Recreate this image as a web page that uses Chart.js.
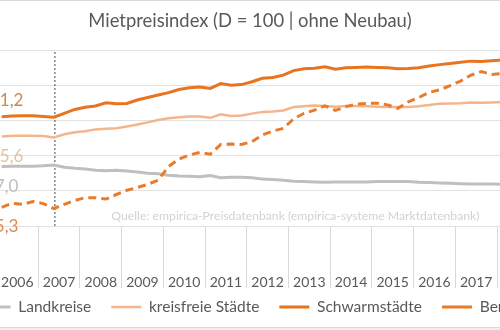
<!DOCTYPE html>
<html lang="de">
<head>
<meta charset="UTF-8">
<title>Mietpreisindex</title>
<script src="https://cdn.jsdelivr.net/npm/chart.js"></script>
<style>
  html, body { margin: 0; padding: 0; background: #efefef; overflow: hidden; }
  .frame {
    position: relative; width: 500px; height: 326px; overflow: hidden; background: #fff;
    border-top: 1px solid #d9d9d9; border-bottom: 1px solid #d9d9d9;
  }
  .frame canvas { position: absolute; left: -60px; top: -1px; }
</style>
</head>
<body>
<div class="frame">
  <canvas id="mietChart" width="620" height="330"></canvas>
</div>

<script>
// quarterly index values, first quarter 2006
const firstYear = 2006;
const yearLabels = ['2006', '2007', '2008', '2009', '2010', '2011', '2012', '2013', '2014', '2015', '2016', '2017', '2018'];
const seriesNames = ['Landkreise', 'kreisfreie Städte', 'Schwarmstädte', 'Berlin'];

const landkreise = [
  97.0, 97.1, 97.1, 97.1, 97.2, 97.4, 96.8, 96.5, 96.3, 95.9,
  95.8, 95.9, 95.7, 95.4, 95.1, 94.9, 94.5, 94.3, 94.2, 94.1,
  94.4, 93.8, 93.9, 93.9, 93.8, 93.4, 93.3, 93.1, 92.8, 92.7,
  92.6, 92.5, 92.6, 92.6, 92.6, 92.6, 92.7, 92.7, 92.7, 92.7,
  92.5, 92.4, 92.3, 92.2, 92.1, 92.0, 92.0, 92.0, 91.9, 91.9, 91.8, 91.8
];
const kreisfreie = [
  105.6, 105.8, 105.8, 105.8, 105.7, 105.3, 106.2, 106.8, 107.1, 107.6,
  107.8, 107.9, 108.4, 109.0, 109.6, 110.3, 110.8, 111.1, 111.3, 111.3,
  110.9, 111.9, 111.4, 111.6, 112.1, 112.6, 112.7, 113.0, 114.0, 114.2,
  114.4, 114.3, 114.1, 114.3, 114.3, 114.2, 114.1, 114.0, 114.0, 114.0,
  114.2, 114.6, 114.9, 115.0, 115.1, 115.3, 115.2, 115.3, 115.4, 115.5, 115.5, 115.6
];
const schwarmstaedte = [
  111.2, 111.4, 111.5, 111.5, 111.3, 111.1, 112.2, 113.3, 113.9, 114.3,
  115.2, 114.9, 115.0, 116.0, 116.7, 117.4, 118.1, 119.0, 119.5, 119.7,
  119.3, 120.7, 120.2, 120.4, 121.2, 122.2, 122.4, 123.1, 124.4, 124.9,
  125.1, 125.5, 124.8, 125.2, 125.3, 125.4, 125.3, 125.2, 124.9, 125.0,
  125.2, 125.7, 126.1, 126.4, 126.8, 127.1, 127.0, 127.2, 127.4, 127.5, 127.7, 127.9
];
const berlin = [
  85.3, 86.5, 86.2, 87.0, 86.4, 85.0, 86.2, 87.3, 88.1, 88.1,
  87.7, 89.0, 90.2, 91.0, 91.9, 93.1, 97.0, 99.1, 100.3, 101.0,
  100.5, 103.3, 103.4, 103.3, 104.1, 106.0, 107.1, 107.9, 110.6, 112.2,
  113.1, 114.3, 113.0, 114.1, 114.8, 115.0, 115.1, 114.6, 113.6, 115.5,
  116.7, 118.2, 118.9, 120.1, 121.4, 123.1, 124.1, 123.3, 123.6, 124.2, 124.8, 125.3
];

const markerYear = 2007.4;   // dotted reference line
const yTicks = [80, 90, 100, 110, 120, 130];
const sourceNote = 'Quelle: empirica-Preisdatenbank (empirica-systeme Marktdatenbank)';

const FONT = 'Lato, "Open Sans", sans-serif';
const TEXT = '#595959';

// quarter midpoints on a numeric year axis
const toPoints = values => values.map((v, i) => ({ x: firstYear + (i + 0.5) / 4, y: v }));
const fmt = v => v.toFixed(1).replace('.', ',');

// year labels sit inside the long separator ticks and reach into the legend's
// padding, so let the x axis clip area extend a bit further down
const yearBand = {
  id: 'yearBand',
  afterLayout(chart) {
    chart.scales.x.bottom += 14;
  }
};

// value of the first quarter written next to each line, plus the source note
const startLabels = {
  id: 'startLabels',
  afterDatasetsDraw(chart) {
    const ctx = chart.ctx;
    const { left, bottom } = chart.chartArea;
    ctx.save();
    ctx.font = '12.2px ' + FONT;
    ctx.fillStyle = '#d2d2d2';
    ctx.textAlign = 'right';
    ctx.textBaseline = 'middle';
    ctx.fillText(sourceNote, left + 483, bottom - 10);

    ctx.font = '17px ' + FONT;
    ctx.textAlign = 'center';
    chart.data.datasets.forEach((ds, i) => {
      if (ds.labelColor === undefined) return;
      const pt = chart.getDatasetMeta(i).data[0];
      ctx.fillStyle = ds.labelColor;
      ctx.fillText(fmt(ds.data[0].y), pt.x, pt.y + ds.labelOffset);
    });
    ctx.restore();
  }
};

new Chart(document.getElementById('mietChart'), {
  type: 'line',
  data: {
    datasets: [
      {
        label: seriesNames[0], data: toPoints(landkreise),
        borderColor: '#bfbfbf', borderWidth: 3, order: 4,
        labelColor: '#bdbdbd', labelOffset: 20
      },
      {
        label: seriesNames[1], data: toPoints(kreisfreie),
        borderColor: '#f3b68c', borderWidth: 2.5, order: 3,
        labelColor: '#dfc3a4', labelOffset: 20
      },
      {
        label: seriesNames[2], data: toPoints(schwarmstaedte),
        borderColor: '#e8741f', borderWidth: 3, order: 2,
        labelColor: '#c98b4c', labelOffset: -16
      },
      {
        label: seriesNames[3], data: toPoints(berlin),
        borderColor: '#e97b2c', borderWidth: 3, borderDash: [8, 5], order: 1,
        labelColor: '#e38a4a', labelOffset: 19
      },
      {
        label: 'marker', data: [{ x: markerYear, y: yTicks[0] }, { x: markerYear, y: yTicks[yTicks.length - 1] }],
        borderColor: '#666', borderWidth: 1.2, borderDash: [2, 2], order: 5
      }
    ]
  },
  options: {
    responsive: false,
    animation: false,
    devicePixelRatio: 1,
    layout: { padding: { top: 0, bottom: 5.25, left: 0, right: 0 } },
    elements: { point: { radius: 0 }, line: { tension: 0, fill: false } },
    scales: {
      x: {
        type: 'linear',
        min: firstYear,
        max: firstYear + 13.51,
        afterBuildTicks: s => {
          const ticks = [];
          yearLabels.forEach((_, k) => {
            ticks.push({ value: firstYear + k });
            ticks.push({ value: firstYear + k + 0.5 });
          });
          ticks.push({ value: firstYear + yearLabels.length });
          s.ticks = ticks;
        },
        afterFit: s => { s.height = 53.25; },
        border: { display: false },
        grid: {
          drawOnChartArea: false,
          tickLength: 62,
          lineWidth: 1,
          color: c => Number.isInteger(c.tick && c.tick.value) ? '#d9d9d9' : 'rgba(0,0,0,0)'
        },
        ticks: {
          autoSkip: false,
          maxRotation: 0,
          padding: -14,
          color: TEXT,
          font: { family: FONT, size: 14 },
          callback: v => Number.isInteger(v) ? '' : (yearLabels[Math.floor(v) - firstYear] || '')
        }
      },
      y: {
        min: yTicks[0],
        max: yTicks[yTicks.length - 1],
        afterBuildTicks: s => { s.ticks = yTicks.map(v => ({ value: v })); },
        afterFit: s => { s.width = 56.5; },
        border: { display: false },
        grid: { color: '#e2e2e2', lineWidth: 1, drawTicks: false },
        ticks: { display: false }
      }
    },
    plugins: {
      title: {
        display: true,
        text: 'Mietpreisindex (D = 100 | ohne Neubau)',
        color: TEXT,
        font: { family: FONT, size: 18.4, weight: 'normal' },
        padding: { top: 10.5, bottom: 18.4 }
      },
      legend: {
        position: 'bottom',
        labels: {
          usePointStyle: true,
          pointStyle: 'line',
          pointStyleWidth: 30,
          padding: 20,
          color: TEXT,
          font: { family: FONT, size: 15.5 },
          filter: item => item.datasetIndex < 4,
          sort: (a, b) => a.datasetIndex - b.datasetIndex
        }
      },
      tooltip: { enabled: false }
    }
  },
  plugins: [yearBand, startLabels]
});
</script>
</body>
</html>
